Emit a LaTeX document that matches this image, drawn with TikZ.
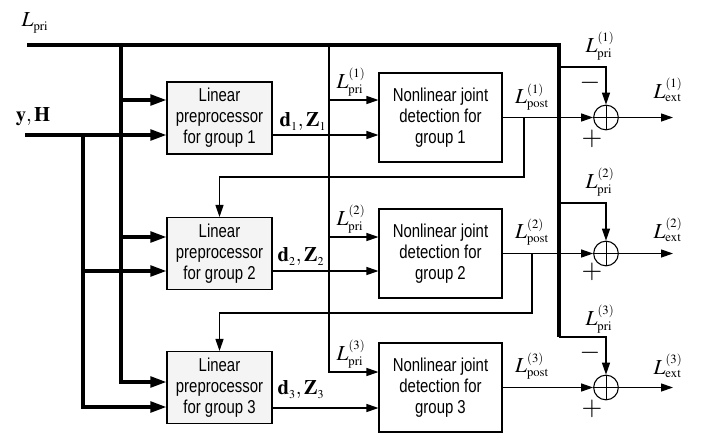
\documentclass[tikz,border=0pt]{standalone}
\usepackage{mathptmx}
\usepackage{fontspec}
\setmainfont{Liberation Serif}
\setsansfont{Liberation Sans}[FakeStretch=0.8]
\usetikzlibrary{arrows.meta}
\DeclareMathSizes{16}{16}{9.5}{7}
\DeclareMathSizes{15.5}{15.5}{9}{7}

\begin{document}
\begin{tikzpicture}[x=0.75pt,y=0.75pt,yscale=-1,xscale=1,
	boxfont/.style={font=\sffamily\fontsize{14}{15.75}\selectfont},
	lpbox/.style={draw, line width=0.8pt, fill=gray!9, boxfont, align=center, minimum width=78.75pt, minimum height=54pt, inner sep=1pt},
	nlbox/.style={draw, line width=0.8pt, boxfont, align=center, minimum width=92.25pt, minimum height=66.75pt, inner sep=1pt},
	sumnode/.style={draw, circle, line width=0.8pt, minimum size=18.5pt, inner sep=0pt,
		path picture={\draw[line width=0.6pt] (path picture bounding box.north) -- (path picture bounding box.south)
			(path picture bounding box.west) -- (path picture bounding box.east);}},
	busline/.style={line width=2.4pt},
	sigline/.style={line width=0.9pt},
	busarrow/.style={busline, -{Triangle[length=12pt,width=8pt]}},
	sigarrow/.style={sigline, -{Triangle[length=9pt,width=6pt]}},
	llab/.style={inner sep=0pt, font=\fontsize{16}{16}\selectfont},
	blab/.style={inner sep=0pt, font=\fontsize{15.5}{15.5}\selectfont},
	signlab/.style={inner sep=0pt, font=\fontsize{20}{20}\selectfont}]
	\useasboundingbox (0,0) rectangle (704,437);

	% Blocks
	\node[lpbox] (lp1) at (219.5,118) {Linear\\preprocessor\\for group 1};
	\node[lpbox] (lp2) at (219.5,253.5) {Linear\\preprocessor\\for group 2};
	\node[lpbox] (lp3) at (219.5,387.5) {Linear\\preprocessor\\for group 3};
	\node[nlbox] (nl1) at (440.5,117.5) {Nonlinear joint\\detection for\\group 1};
	\node[nlbox] (nl2) at (440.5,253.5) {Nonlinear joint\\detection for\\group 2};
	\node[nlbox] (nl3) at (440.5,387.5) {Nonlinear joint\\detection for\\group 3};
	\node[sumnode] (sum1) at (606,117.5) {};
	\node[sumnode] (sum2) at (606,253.5) {};
	\node[sumnode] (sum3) at (606,387.5) {};

	% Junctions
	\coordinate (lstart) at (27,45);
	\coordinate (lcorner) at (559,45);
	\coordinate (lend) at (559,337);
	\coordinate (lsplit) at (121,45);
	\coordinate (lb1) at (121,100);
	\coordinate (lb2) at (121,237);
	\coordinate (lb3) at (121,382);
	\coordinate (ystart) at (25,135);
	\coordinate (ysplit) at (83,135);
	\coordinate (yb2) at (83,271);
	\coordinate (yb3) at (83,407);
	\coordinate (nsplit) at (329,45);
	\coordinate (nb1) at (329,100);
	\coordinate (nb2) at (329,237);
	\coordinate (nb3) at (329,372);
	\coordinate (dz1) at (300,135);
	\coordinate (dz2) at (300,271);
	\coordinate (dz3) at (300,408);
	\coordinate (fb1) at (524,117.5);
	\coordinate (fbrow1) at (524,177);
	\coordinate (fb2) at (532,253.5);
	\coordinate (fbrow2) at (532,313);
	\coordinate (sb1) at (559,67);
	\coordinate (sb2) at (559,203);
	\coordinate (out1) at (673,117.5);
	\coordinate (out2) at (673,253.5);
	\coordinate (out3) at (673,387.5);

	% L_pri bus
	\draw[busline] (lstart) -- (lcorner) -- (lend);
	\draw[busarrow] (lsplit) |- (lp3.west |- lb3);
	\draw[busarrow] (lb1) -- (lp1.west |- lb1);
	\draw[busarrow] (lb2) -- (lp2.west |- lb2);
	% y, H bus
	\draw[busarrow] (ystart) -- (lp1.west |- ystart);
	\draw[busarrow] (ysplit) |- (lp3.west |- yb3);
	\draw[busarrow] (yb2) -- (lp2.west |- yb2);
	% L_pri to detectors
	\draw[sigarrow] (nsplit) |- (nl3.west |- nb3);
	\draw[sigarrow] (nb1) -- (nl1.west |- nb1);
	\draw[sigarrow] (nb2) -- (nl2.west |- nb2);
	% preprocessor outputs
	\draw[sigarrow] (lp1.east |- dz1) -- (nl1.west |- dz1);
	\draw[sigarrow] (lp2.east |- dz2) -- (nl2.west |- dz2);
	\draw[sigarrow] (lp3.east |- dz3) -- (nl3.west |- dz3);
	% detector outputs and feedback
	\draw[sigarrow] (nl1.east) -- (sum1.west);
	\draw[sigarrow] (nl2.east) -- (sum2.west);
	\draw[sigarrow] (nl3.east) -- (sum3.west);
	\draw[sigarrow] (fb1) -- (fbrow1) -| (lp2.north);
	\draw[sigarrow] (fb2) -- (fbrow2) -| (lp3.north);
	% extrinsic part
	\draw[sigarrow] (sb1) -| (sum1.north);
	\draw[sigarrow] (sb2) -| (sum2.north);
	\draw[sigarrow] (lend) -| (sum3.north);
	\draw[sigarrow] (sum1.east) -- (out1);
	\draw[sigarrow] (sum2.east) -- (out2);
	\draw[sigarrow] (sum3.east) -- (out3);

	% Labels
	\node[llab] (tlpri) at (35,23) {$L_{\mathrm{pri}}$};
	\node[blab] (tyh) at (33,117) {$\mathbf{y},\mathbf{H}$};
	\node[blab] (tdz1) at (303,122) {$\mathbf{d}_1,\mathbf{Z}_1$};
	\node[blab] (tdz2) at (301,257) {$\mathbf{d}_2,\mathbf{Z}_2$};
	\node[blab] (tdz3) at (301,390) {$\mathbf{d}_3,\mathbf{Z}_3$};
	\node[llab] (tnp1) at (351,82) {$L_{\mathrm{pri}}^{(1)}$};
	\node[llab] (tnp2) at (351,219) {$L_{\mathrm{pri}}^{(2)}$};
	\node[llab] (tnp3) at (351,354) {$L_{\mathrm{pri}}^{(3)}$};
	\node[llab] (tpo1) at (532,97) {$L_{\mathrm{post}}^{(1)}$};
	\node[llab] (tpo2) at (532,232) {$L_{\mathrm{post}}^{(2)}$};
	\node[llab] (tpo3) at (532,366) {$L_{\mathrm{post}}^{(3)}$};
	\node[llab] (tsp1) at (600,46) {$L_{\mathrm{pri}}^{(1)}$};
	\node[llab] (tsp2) at (600,182) {$L_{\mathrm{pri}}^{(2)}$};
	\node[llab] (tsp3) at (600,319) {$L_{\mathrm{pri}}^{(3)}$};
	\node[llab] (tex1) at (668,90) {$L_{\mathrm{ext}}^{(1)}$};
	\node[llab] (tex2) at (668,230) {$L_{\mathrm{ext}}^{(2)}$};
	\node[llab] (tex3) at (668,366) {$L_{\mathrm{ext}}^{(3)}$};
	\node[signlab] (mn1) at (590,83) {$-$};
	\node[signlab] (mn3) at (590,353) {$-$};
	\node[signlab] (pl1) at (592,139) {$+$};
	\node[signlab] (pl2) at (592,272) {$+$};
	\node[signlab] (pl3) at (592,409) {$+$};
\end{tikzpicture}
\end{document}
